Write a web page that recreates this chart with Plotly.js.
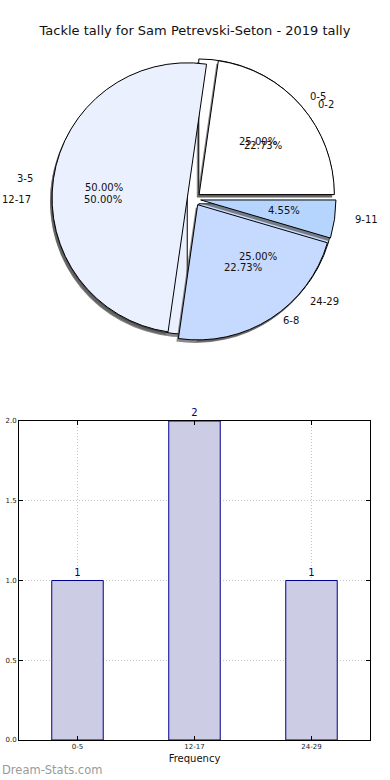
<!DOCTYPE html>
<html>
<head>
<meta charset="utf-8">
<script src="https://cdn.plot.ly/plotly-3.0.1.min.js"></script>
<style>html,body{margin:0;padding:0;background:#fff;}#chart{width:390px;height:780px;}</style>
</head>
<body>
<div id="chart"></div>
<script>
// Data
var outerLabels = ['0-5', '12-17', '24-29'];
var outerValues = [1, 2, 1];
var innerLabels = ['0-2', '3-5', '6-8', '9-11'];
var innerValues = [5, 11, 5, 1];
var barCategories = ['0-5', '12-17', '24-29'];
var barValues = [1, 2, 1];

var outerColors = ['#ffffff', '#eaf0fe', '#c6d9fe'];
var innerColors = ['#ffffff', '#eaf0fe', '#c6d9fe', '#b5d5fe'];

var W = 390, H = 780;
var font = 'DejaVu Sans, sans-serif';
var pull = 0.05;
// pie placement (pixels)
var cx = 194, cy = 199, half = 142;
// text placement radii (pixels), like an unequal-aspect pie
var rx = 140, ry = 126;

function sum(a) { return a.reduce(function(s, v) { return s + v; }, 0); }
function dom(dx, dy) {
  return {
    x: [(cx - half + dx) / W, (cx + half + dx) / W],
    y: [1 - (cy + half + dy) / H, 1 - (cy - half + dy) / H]
  };
}
function pieBase(labels, values, d) {
  // first slice starts at 3 o'clock, slices run counterclockwise
  return {
    type: 'pie', labels: labels, values: values, sort: false,
    direction: 'counterclockwise', rotation: 90 - 360 * values[0] / sum(values),
    pull: labels.map(function(){ return pull; }),
    domain: d, hoverinfo: 'skip', showlegend: false, textinfo: 'none'
  };
}
var traces = [];
function addPie(labels, values, colors) {
  var s = pieBase(labels, values, dom(-2, 3));
  s.marker = {colors: labels.map(function(){ return 'rgba(85,85,85,0.7)'; }), line: {width: 0}};
  traces.push(s);
  var p = pieBase(labels, values, dom(0, 0));
  p.marker = {colors: colors, line: {color: '#000', width: 1}};
  traces.push(p);
}
addPie(outerLabels, outerValues, outerColors);
addPie(innerLabels, innerValues, innerColors);

// labels and percentages, positioned from the slice angles
var annotations = [];
function addTexts(labels, values) {
  var tot = sum(values), acc = 0;
  labels.forEach(function(lab, i) {
    var a0 = acc / tot * 2 * Math.PI;
    acc += values[i];
    var a1 = acc / tot * 2 * Math.PI;
    var tm = (a0 + a1) / 2, c = Math.cos(tm), s = Math.sin(tm);
    var ox = cx + pull * rx * c, oy = cy - pull * ry * s;
    var lx = ox + 1.1 * rx * c, ly = oy - 1.1 * ry * s;
    annotations.push({
      text: lab, xref: 'paper', yref: 'paper', x: lx / W, y: 1 - ly / H,
      xanchor: lx > cx ? 'left' : 'right', yanchor: 'middle', showarrow: false,
      font: {family: font, size: 10, color: '#111'}
    });
    var px = ox + 0.6 * rx * c, py = oy - 0.6 * ry * s;
    annotations.push({
      text: (values[i] / tot * 100).toFixed(2) + '%', xref: 'paper', yref: 'paper',
      x: px / W, y: 1 - py / H, xanchor: 'center', yanchor: 'middle', showarrow: false,
      font: {family: font, size: 10, color: '#111'}
    });
  });
}
addTexts(outerLabels, outerValues);
addTexts(innerLabels, innerValues);

annotations.push({
  text: 'Dream-Stats.com', xref: 'paper', yref: 'paper', x: 0, y: 1 - 770 / H,
  xanchor: 'left', yanchor: 'middle', showarrow: false,
  font: {family: font, size: 11.5, color: '#9a9a9a'}
});

// bar chart
traces.push({
  type: 'bar', x: barCategories, y: barValues, xaxis: 'x', yaxis: 'y',
  width: 0.44,
  marker: {color: '#cccce5', line: {color: '#00008b', width: 1}},
  text: barValues.map(String), textposition: 'outside', cliponaxis: false,
  textfont: {family: font, size: 10, color: '#00008b'},
  hoverinfo: 'skip', showlegend: false
});

var gridStyle = {showgrid: true, gridcolor: '#c4c4c4', griddash: '1px,2px', gridwidth: 1};
var layout = {
  width: W, height: H,
  margin: {l: 0, r: 0, t: 0, b: 0},
  paper_bgcolor: '#fff', plot_bgcolor: '#fff',
  font: {family: font, color: '#222'},
  title: {text: 'Tackle tally for Sam Petrevski-Seton - 2019 tally', font: {family: font, size: 13, color: '#111'},
          x: 0.5, xanchor: 'center', y: 1 - 30 / H, yanchor: 'middle'},
  xaxis: Object.assign({
    domain: [19 / W, 370 / W], anchor: 'y', type: 'category', range: [-0.5, 2.5],
    showline: true, mirror: 'ticks', linecolor: '#000', linewidth: 1,
    ticks: 'inside', ticklen: 4, tickcolor: '#000',
    tickfont: {family: font, size: 7, color: '#222'},
    title: {text: 'Frequency', font: {family: font, size: 10, color: '#111'}, standoff: 4},
    zeroline: false, fixedrange: true
  }, gridStyle),
  yaxis: Object.assign({
    domain: [1 - 740 / H, 1 - 421 / H], anchor: 'x', range: [0, 2],
    tickvals: [0, 0.5, 1, 1.5, 2], tickformat: '.1f',
    showline: true, mirror: 'ticks', linecolor: '#000', linewidth: 1,
    ticks: 'inside', ticklen: 4, tickcolor: '#000',
    tickfont: {family: font, size: 7, color: '#222'},
    zeroline: false, fixedrange: true
  }, gridStyle),
  annotations: annotations
};
Plotly.newPlot('chart', traces, layout, {displayModeBar: false, staticPlot: true});
</script>
</body>
</html>
